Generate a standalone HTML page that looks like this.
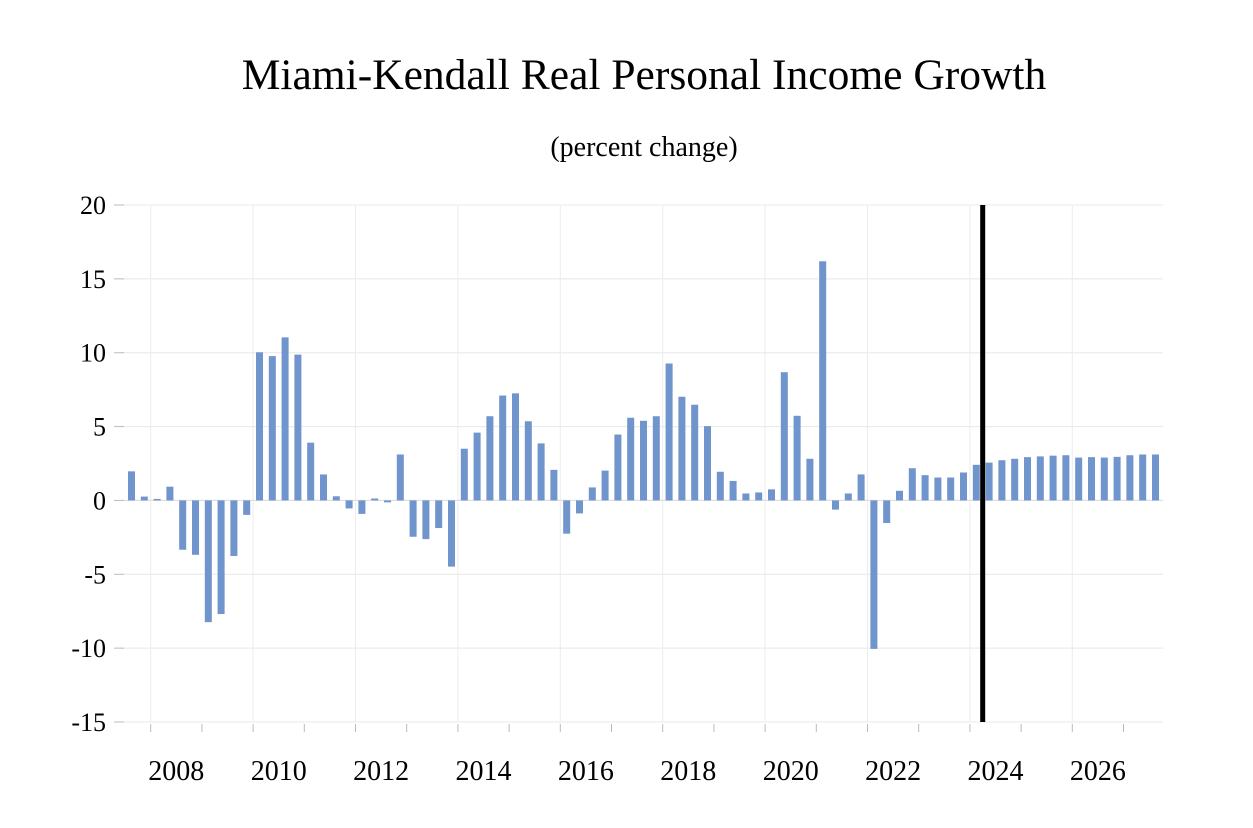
<!DOCTYPE html>
<html><head><meta charset="utf-8"><style>
body{margin:0;background:#fff;}
svg{display:block;font-family:"Liberation Serif",serif;}
</style></head><body>
<svg id="chart" width="1253" height="828">
<text x="644" y="89" font-size="43.5" text-anchor="middle">Miami-Kendall Real Personal Income Growth</text>
<text x="644" y="156" font-size="28" text-anchor="middle">(percent change)</text>
<g id="grid"></g><g id="bars"></g><g id="axes"></g>
</svg>
<script>
const values=[1.97,0.26,0.1,0.93,-3.34,-3.68,-8.24,-7.69,-3.76,-0.98,10.03,9.77,11.04,9.87,3.91,1.76,0.28,-0.54,-0.91,0.13,-0.13,3.11,-2.46,-2.62,-1.87,-4.48,3.5,4.59,5.7,7.1,7.25,5.36,3.86,2.07,-2.25,-0.88,0.88,2.02,4.46,5.6,5.39,5.7,9.27,7.02,6.48,5.03,1.94,1.32,0.47,0.54,0.75,8.68,5.73,2.82,16.19,-0.62,0.47,1.76,-10.05,-1.53,0.65,2.18,1.71,1.55,1.55,1.89,2.41,2.56,2.72,2.82,2.93,2.98,3.03,3.06,2.9,2.93,2.9,2.95,3.06,3.11,3.11];
const startYear=2007, startQuarter=3;
const yTicks=[20,15,10,5,0,-5,-10,-15];
const xLabels=[2008,2010,2012,2014,2016,2018,2020,2022,2024,2026];
const forecastStart=2024.25;
const NS='http://www.w3.org/2000/svg';
const x0=122,x1=1163,yTop=205,yBot=722;
const yearW=51.2, year2008=150.7;
function xYear(t){return year2008+(t-2008)*yearW;}
function y(v){return yTop+(20-v)*(yBot-yTop)/35;}
function mk(tag,attrs,parent){const e=document.createElementNS(NS,tag);for(const k in attrs)e.setAttribute(k,attrs[k]);parent.appendChild(e);return e;}
const grid=document.getElementById('grid'),bars=document.getElementById('bars'),axes=document.getElementById('axes');
yTicks.forEach(v=>{
 const l=mk('line',{x1:x0,x2:x1,y1:y(v),y2:y(v),stroke:'#e8e8e8','stroke-width':1},grid);
 
 
 const t=mk('line',{x1:114,x2:124,y1:y(v),y2:y(v),stroke:'#bbb','stroke-width':1},axes);
 
 
 const tx=mk('text',{x:106,y:y(v)+9,'font-size':26,'text-anchor':'end'},axes);
 tx.textContent=String(v);
 
 
});
for(let yr=2008;yr<=2027;yr++){
 const xx=xYear(yr);
 if(yr%2===0){
  const g=mk('line',{x1:xx,x2:xx,y1:yTop,y2:yBot,stroke:'#ececec','stroke-width':1},grid);
  
  
 }
 const t=mk('line',{x1:xx,x2:xx,y1:724,y2:732,stroke:'#bbb','stroke-width':1},axes);
 
 
}
xLabels.forEach(yr=>{
 const tx=mk('text',{x:xYear(yr+0.5),y:780,'font-size':28,'text-anchor':'middle'},axes);
 tx.textContent=String(yr);
 
 
});
const zl=mk('line',{x1:x0,x2:x1,y1:y(0),y2:y(0),stroke:'#ddd','stroke-width':1},grid);


values.forEach((v,i)=>{
 const t=startYear+(startQuarter-1)/4+i/4;
 const cx=xYear(t+0.125);
 const r=mk('rect',{x:cx-3.5,width:7,y:Math.min(y(v),y(0)),height:Math.abs(y(v)-y(0)),fill:'#7094cc'},bars);
 
 
});
const fx=xYear(forecastStart);
const fl=mk('line',{x1:fx,x2:fx,y1:yTop,y2:yBot,stroke:'#000','stroke-width':5},axes);


</script>
</body></html>
